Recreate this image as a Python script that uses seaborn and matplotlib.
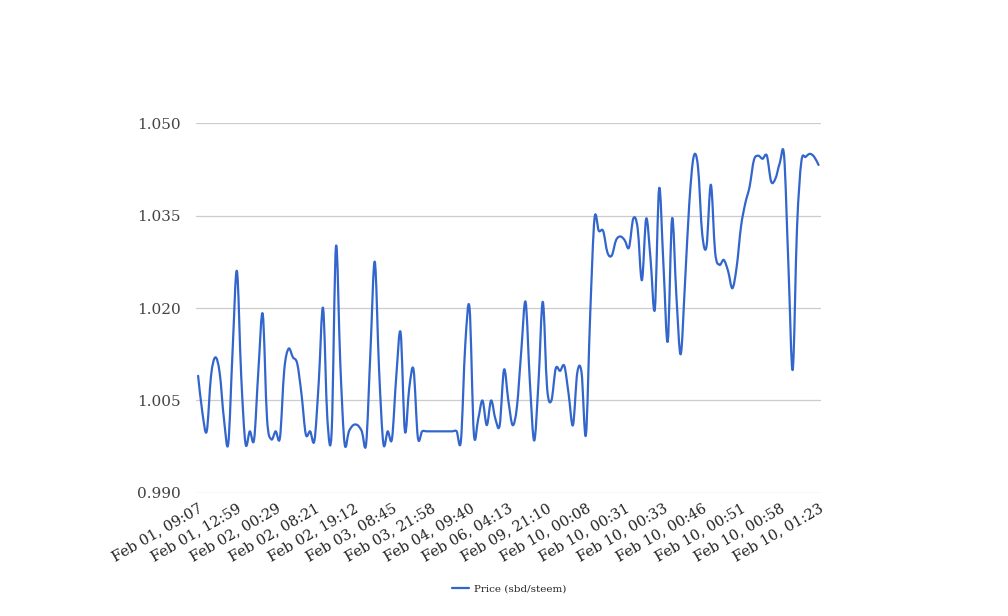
import numpy as np
import pandas as pd
import matplotlib
matplotlib.use("Agg")
import matplotlib.pyplot as plt
from matplotlib.path import Path
from matplotlib.patches import PathPatch
from matplotlib.lines import Line2D
import seaborn as sns

# ~~~~~~~~~~~~~~~~~~  DATA  ~~~~~~~~~~~~~~~~~~
price = [
    1.009, 1.003, 1.000, 1.009, 1.012, 1.0095, 1.002, 0.998, 1.013, 1.026,
    1.009, 0.998, 1.000, 0.9987, 1.010, 1.019, 1.002, 0.9987, 1.000, 0.999,
    1.010, 1.0134, 1.012, 1.011, 1.006, 0.9995, 1.000, 0.9985, 1.008, 1.020,
    1.002, 1.000, 1.030, 1.011, 0.998, 1.000, 1.001, 1.001, 1.000, 0.998,
    1.013, 1.0275, 1.010, 0.998, 1.000, 0.9988, 1.009, 1.016, 1.000, 1.007,
    1.010, 0.999, 1.000, 1.000, 1.000, 1.000, 1.000, 1.000, 1.000, 1.000,
    1.000, 0.9985, 1.014, 1.020, 0.9996, 1.002, 1.005, 1.001, 1.005, 1.002,
    1.001, 1.010, 1.005, 1.001, 1.004, 1.013, 1.021, 1.008, 0.9985, 1.008,
    1.021, 1.007, 1.005, 1.0102, 1.0098, 1.0106, 1.006, 1.001, 1.0095, 1.0095,
    0.9994, 1.019, 1.0345, 1.0325, 1.0325, 1.029, 1.0285, 1.031, 1.0316, 1.031,
    1.0298, 1.0345, 1.033, 1.0245, 1.0345, 1.028, 1.0198, 1.0394, 1.027, 1.0146,
    1.0345, 1.022, 1.0125, 1.024, 1.037, 1.0445, 1.043, 1.032, 1.030, 1.040,
    1.029, 1.027, 1.0278, 1.026, 1.0232, 1.0267, 1.0332, 1.037, 1.0397, 1.044,
    1.0447, 1.0442, 1.0447, 1.0405, 1.041, 1.0435, 1.0447, 1.027, 1.010, 1.033,
    1.0437, 1.0445, 1.045, 1.0445, 1.0432,
]

tick_labels = [
    "Feb 01, 09:07", "Feb 01, 12:59", "Feb 02, 00:29", "Feb 02, 08:21",
    "Feb 02, 19:12", "Feb 03, 08:45", "Feb 03, 21:58", "Feb 04, 09:40",
    "Feb 06, 04:13", "Feb 09, 21:10", "Feb 10, 00:08", "Feb 10, 00:31",
    "Feb 10, 00:33", "Feb 10, 00:46", "Feb 10, 00:51", "Feb 10, 00:58",
    "Feb 10, 01:23",
]
label_every = 9

y_ticks = [0.990, 1.005, 1.020, 1.035, 1.050]

df = pd.DataFrame({"idx": np.arange(len(price)), "price": price})

LINE_COLOR = "#3366cc"


def smooth_path(xy):
    # cubic bezier through the points (catmull-rom tangents), like a "function" curve
    pts = np.vstack([xy[:1], xy, xy[-1:]])
    verts = [tuple(xy[0])]
    codes = [Path.MOVETO]
    for i in range(1, len(pts) - 2):
        p0, p1, p2, p3 = pts[i - 1], pts[i], pts[i + 1], pts[i + 2]
        c1 = p1 + (p2 - p0) / 6.0
        c2 = p2 - (p3 - p1) / 6.0
        verts += [tuple(c1), tuple(c2), tuple(p2)]
        codes += [Path.CURVE4] * 3
    return Path(verts, codes)


# ~~~~~~~~~~~~~~~~~~  PLOT  ~~~~~~~~~~~~~~~~~~
sns.set_theme(style="white")
plt.rcParams["font.family"] = ["DejaVu Serif"]

fig = plt.figure(figsize=(10.08, 6.16), dpi=100)
ax = fig.add_axes([0.1944, 0.1997, 0.6198, 0.6006])

sns.lineplot(data=df, x="idx", y="price", color=LINE_COLOR, linewidth=1.6,
             legend=False, ax=ax)

# swap the straight segments for a smooth curve through the same points
line = ax.lines[-1]
curve = PathPatch(smooth_path(line.get_xydata()), facecolor="none",
                  edgecolor=LINE_COLOR, linewidth=1.6, capstyle="round",
                  joinstyle="round")
ax.add_patch(curve)
line.remove()

ax.set_xlim(-0.5, len(price) - 0.5)
ax.set_ylim(0.990, 1.050)
ax.set_yticks(y_ticks)
ax.set_yticklabels([f"{v:.3f}" for v in y_ticks])
ax.set_xticks(np.arange(0, len(price), label_every))
ax.set_xticklabels(tick_labels, rotation=30, ha="right", rotation_mode="anchor")

ax.yaxis.grid(True, color="#cccccc", linewidth=0.9)
ax.xaxis.grid(False)
ax.set_axisbelow(True)
for s in ax.spines.values():
    s.set_visible(False)

ax.tick_params(axis="y", length=0, pad=10.8, labelsize=11, labelcolor="#444444")
ax.tick_params(axis="x", length=0, pad=6, labelsize=10.5, labelcolor="#222222")
ax.set_xlabel("")
ax.set_ylabel("")

handle = Line2D([], [], color=LINE_COLOR, linewidth=1.6)
ax.legend([handle], ["Price (sbd/steem)"], loc="center",
          bbox_to_anchor=(0.505, 0.044), bbox_transform=fig.transFigure,
          frameon=False, fontsize=7.5, handlelength=1.6, handletextpad=0.5)

fig.savefig("out.png", dpi=100)
